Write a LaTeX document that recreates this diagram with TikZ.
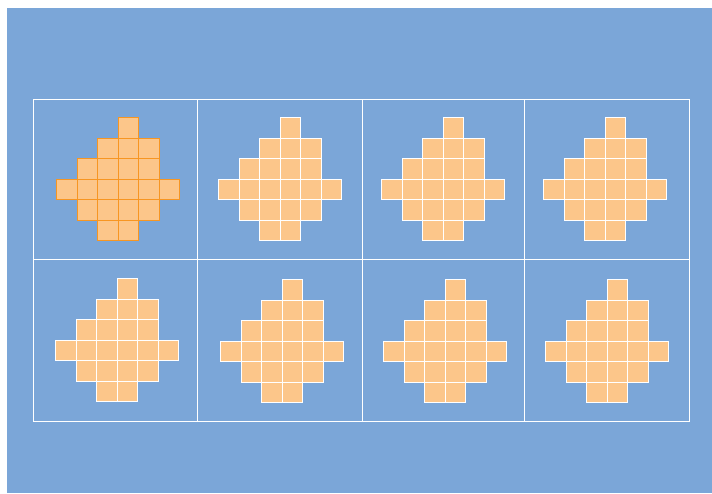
\documentclass[tikz,border=0pt]{standalone}
\usepackage{tikz}
\usetikzlibrary{positioning}
\definecolor{slideblue}{RGB}{123,166,216}
\definecolor{tilefill}{RGB}{252,198,138}
\definecolor{tileedge}{RGB}{247,150,34}

\begin{document}
\begin{tikzpicture}[x=1pt, y=-1pt,
    panel/.style={draw=white, line width=0.9pt, minimum height=160pt, inner sep=0pt, anchor=north west},
    firsttile/.style={draw=tileedge, fill=tilefill, line width=1.1pt, minimum size=20.5pt, inner sep=0pt, anchor=north west},
    plaintile/.style={draw=white, fill=tilefill, line width=1.1pt, minimum size=20.5pt, inner sep=0pt, anchor=north west}
]
\useasboundingbox (0,0) rectangle (712,493);
\fill[white] (0,0) rectangle (712,493);
\fill[slideblue] (7,8) rectangle (712,493);

% grid of panels
\node[panel, minimum width=164pt] (p1) at (33,99) {};
\node[panel, minimum width=165pt] (p2) at (197,99) {};
\node[panel, minimum width=162pt] (p3) at (362,99) {};
\node[panel, minimum width=165pt] (p4) at (524,99) {};
\node[panel, minimum width=164pt, minimum height=162pt] (p5) at (33,259) {};
\node[panel, minimum width=165pt, minimum height=162pt] (p6) at (197,259) {};
\node[panel, minimum width=162pt, minimum height=162pt] (p7) at (362,259) {};
\node[panel, minimum width=165pt, minimum height=162pt] (p8) at (524,259) {};

% tiles
\foreach \p/\x/\y/\s in {1/56/117/firsttile, 2/218/117/plaintile, 3/381/117/plaintile, 4/543/117/plaintile,
                         5/55/278/plaintile, 6/220/279/plaintile, 7/383/279/plaintile, 8/545/279/plaintile}
  \foreach \r/\c in {0/3, 1/2, 1/3, 1/4, 2/1, 2/2, 2/3, 2/4, 3/0, 3/1, 3/2, 3/3, 3/4, 3/5, 4/1, 4/2, 4/3, 4/4, 5/2, 5/3}
    \node[\s] (t\p-\r\c) at ({\x+\c*20.5},{\y+\r*20.5}) {};
\end{tikzpicture}
\end{document}
